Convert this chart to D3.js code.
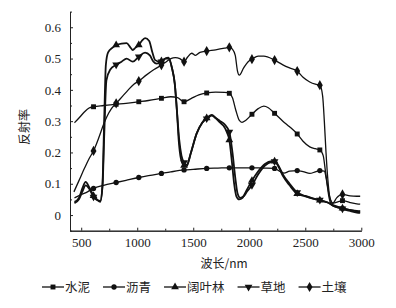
<!DOCTYPE html>
<html>
<head>
<meta charset="utf-8">
<script src="https://cdn.jsdelivr.net/npm/d3@7"></script>
<style>
  body { margin: 0; background: #fff; }
  svg { display: block; }
</style>
</head>
<body>
<div id="chart"></div>
<script>
// phổ phản xạ 5 loại bề mặt

const seriesNames = ["水泥", "沥青", "阔叶林", "草地", "土壤"];
const markerWl = [610, 812, 1014, 1216, 1418, 1620, 1822, 2024, 2226, 2428, 2630, 2832];

const xTicks = [500, 1000, 1500, 2000, 2500, 3000];
const yTicks = [0, 0.1, 0.2, 0.3, 0.4, 0.5, 0.6];

// 水泥
const cementWl  = [440, 480, 530, 570, 610, 700, 812, 900, 1014, 1100, 1216, 1300, 1360, 1418, 1480, 1550, 1620, 1700, 1780, 1822, 1850, 1880, 1910, 1935, 1970, 2024, 2080, 2130, 2170, 2226, 2300, 2360, 2428, 2480, 2540, 2590, 2630, 2660, 2680, 2700, 2720, 2750, 2790, 2832, 2900, 2960, 2990];
const cementVal = [0.295, 0.31, 0.33, 0.342, 0.346, 0.35, 0.354, 0.357, 0.362, 0.366, 0.373, 0.378, 0.375, 0.362, 0.372, 0.384, 0.39, 0.393, 0.392, 0.389, 0.375, 0.335, 0.303, 0.296, 0.303, 0.322, 0.34, 0.348, 0.343, 0.325, 0.3, 0.282, 0.259, 0.236, 0.218, 0.212, 0.208, 0.19, 0.14, 0.09, 0.055, 0.038, 0.042, 0.046, 0.04, 0.036, 0.035];

// 沥青
const asphaltWl  = [440, 500, 560, 610, 700, 812, 900, 1014, 1100, 1216, 1300, 1418, 1500, 1620, 1720, 1822, 1920, 2024, 2120, 2226, 2270, 2310, 2360, 2428, 2480, 2540, 2590, 2630, 2670, 2690, 2710, 2730, 2760, 2832, 2900, 2960, 2990];
const asphaltVal = [0.055, 0.065, 0.075, 0.085, 0.095, 0.104, 0.111, 0.12, 0.126, 0.133, 0.138, 0.144, 0.146, 0.149, 0.15, 0.151, 0.151, 0.151, 0.15, 0.149, 0.14, 0.134, 0.14, 0.142, 0.139, 0.133, 0.138, 0.142, 0.14, 0.11, 0.06, 0.035, 0.027, 0.021, 0.017, 0.014, 0.013];

// 阔叶林
const forestWl  = [440, 480, 510, 540, 570, 610, 640, 670, 690, 705, 720, 740, 780, 812, 860, 905, 940, 960, 985, 1014, 1040, 1070, 1107, 1135, 1160, 1200, 1216, 1250, 1280, 1310, 1335, 1355, 1370, 1390, 1418, 1440, 1480, 1530, 1580, 1620, 1665, 1700, 1740, 1770, 1800, 1822, 1845, 1865, 1885, 1910, 1940, 1970, 2024, 2080, 2140, 2200, 2226, 2260, 2300, 2360, 2428, 2500, 2560, 2630, 2700, 2760, 2832, 2900, 2960, 2990];
const forestVal = [0.042, 0.055, 0.085, 0.106, 0.09, 0.062, 0.05, 0.042, 0.1, 0.3, 0.48, 0.52, 0.535, 0.543, 0.548, 0.549, 0.535, 0.527, 0.535, 0.543, 0.556, 0.565, 0.556, 0.52, 0.495, 0.49, 0.492, 0.5, 0.5, 0.47, 0.42, 0.33, 0.24, 0.18, 0.158, 0.155, 0.2, 0.26, 0.295, 0.31, 0.32, 0.31, 0.295, 0.285, 0.265, 0.24, 0.17, 0.1, 0.06, 0.05, 0.055, 0.075, 0.11, 0.14, 0.163, 0.172, 0.172, 0.155, 0.125, 0.095, 0.068, 0.06, 0.053, 0.047, 0.04, 0.03, 0.022, 0.016, 0.012, 0.011];

// 草地
const grassWl  = [440, 480, 510, 540, 570, 610, 640, 670, 690, 705, 725, 760, 812, 860, 905, 960, 1014, 1070, 1113, 1145, 1173, 1216, 1250, 1280, 1310, 1335, 1355, 1375, 1395, 1418, 1440, 1480, 1530, 1580, 1620, 1665, 1700, 1740, 1780, 1822, 1850, 1875, 1895, 1920, 1950, 1980, 2024, 2080, 2140, 2200, 2226, 2260, 2300, 2360, 2428, 2500, 2560, 2630, 2700, 2760, 2832, 2900, 2960, 2990];
const grassVal = [0.038, 0.05, 0.075, 0.095, 0.085, 0.058, 0.048, 0.045, 0.09, 0.25, 0.43, 0.465, 0.48, 0.49, 0.5, 0.49, 0.506, 0.519, 0.51, 0.49, 0.484, 0.49, 0.5, 0.503, 0.47, 0.42, 0.33, 0.24, 0.19, 0.168, 0.16, 0.2, 0.26, 0.295, 0.308, 0.318, 0.31, 0.3, 0.29, 0.265, 0.2, 0.12, 0.07, 0.055, 0.06, 0.075, 0.095, 0.13, 0.158, 0.17, 0.171, 0.158, 0.13, 0.1, 0.072, 0.061, 0.054, 0.048, 0.04, 0.028, 0.02, 0.013, 0.008, 0.007];

// 土壤
const soilWl  = [435, 480, 530, 570, 610, 660, 700, 730, 770, 812, 870, 920, 970, 1014, 1080, 1150, 1216, 1260, 1300, 1340, 1380, 1418, 1450, 1486, 1520, 1560, 1620, 1700, 1780, 1822, 1850, 1875, 1895, 1911, 1950, 1990, 2024, 2080, 2130, 2226, 2300, 2360, 2428, 2480, 2540, 2590, 2630, 2655, 2670, 2685, 2700, 2720, 2745, 2780, 2832, 2900, 2960, 2990];
const soilVal = [0.074, 0.11, 0.15, 0.18, 0.205, 0.25, 0.29, 0.315, 0.34, 0.357, 0.38, 0.4, 0.418, 0.428, 0.447, 0.465, 0.479, 0.49, 0.5, 0.503, 0.5, 0.49, 0.505, 0.517, 0.51, 0.52, 0.524, 0.528, 0.533, 0.536, 0.53, 0.51, 0.46, 0.447, 0.47, 0.49, 0.498, 0.508, 0.508, 0.495, 0.48, 0.47, 0.46, 0.44, 0.425, 0.418, 0.415, 0.38, 0.3, 0.2, 0.12, 0.055, 0.037, 0.055, 0.066, 0.061, 0.06, 0.06];

const width = 396, height = 308;
const margin = { top: 11.6, right: 34.7, bottom: 77.3, left: 70 };

const svg = d3.select("#chart")
  .append("svg")
  .attr("width", width)
  .attr("height", height);

const x = d3.scaleLinear()
  .domain([400, 3000])
  .range([margin.left, width - margin.right]);

const y = d3.scaleLinear()
  .domain([-0.05, 0.65])
  .range([height - margin.bottom, margin.top]);

const tickFont = "'Liberation Serif', 'Times New Roman', serif";
const cjkFont = "'Noto Sans CJK SC', sans-serif";

// trục
const xMinor = d3.range(750, 3000, 500);
const yMinor = d3.range(-0.05, 0.651, 0.1).map(d => +d.toFixed(2));

svg.append("g")
  .attr("transform", `translate(0,${y(-0.05)})`)
  .call(d3.axisBottom(x).tickValues(xMinor).tickFormat("").tickSizeInner(-2).tickSizeOuter(0));

svg.append("g")
  .attr("transform", `translate(${x(400)},0)`)
  .call(d3.axisLeft(y).tickValues(yMinor).tickFormat("").tickSizeInner(-2).tickSizeOuter(0));

svg.append("g")
  .attr("transform", `translate(0,${y(-0.05)})`)
  .call(d3.axisBottom(x).tickValues(xTicks).tickFormat(d3.format("d")).tickSizeInner(-3).tickSizeOuter(0).tickPadding(7));

svg.append("g")
  .attr("transform", `translate(${x(400)},0)`)
  .call(d3.axisLeft(y).tickValues(yTicks).tickFormat(d => d === 0 ? "0" : d3.format(".1f")(d)).tickSizeInner(-3).tickSizeOuter(0).tickPadding(9));

svg.selectAll(".tick text")
  .attr("font-family", tickFont)
  .attr("font-size", "13px")
  .attr("fill", "#222");
svg.selectAll(".domain, .tick line").attr("stroke", "#222");

// nhãn trục
svg.append("text")
  .attr("x", 224)
  .attr("y", 268)
  .attr("text-anchor", "middle")
  .attr("font-family", cjkFont)
  .attr("font-size", "12px")
  .attr("fill", "#222")
  .text("波长/nm");

svg.append("text")
  .attr("transform", "translate(29,127) rotate(-90)")
  .attr("text-anchor", "middle")
  .attr("font-family", cjkFont)
  .attr("font-size", "12px")
  .attr("fill", "#222")
  .text("反射率");

// đường + marker
const seriesWl = [cementWl, asphaltWl, forestWl, grassWl, soilWl];
const seriesVal = [cementVal, asphaltVal, forestVal, grassVal, soilVal];
const symbols = [d3.symbolSquare, d3.symbolCircle, d3.symbolTriangle, d3.symbolTriangle, d3.symbolDiamond];
const symSize = [24, 22, 26, 26, 30];
const symRotate = [0, 0, 0, 180, 0];
const strokeW = [1.3, 1.3, 1.8, 1.8, 1.3];

const line = d3.line()
  .x(d => x(d.wl))
  .y(d => y(d.v))
  .curve(d3.curveMonotoneX);

seriesNames.forEach((name, i) => {
  const pts = seriesWl[i].map((wl, j) => ({ wl, v: seriesVal[i][j] }));

  svg.append("path")
    .datum(pts)
    .attr("fill", "none")
    .attr("stroke", "#111")
    .attr("stroke-width", strokeW[i])
    .attr("stroke-linejoin", "round")
    .attr("d", line);

  svg.selectAll(".m" + i)
    .data(pts.filter(d => markerWl.includes(d.wl)))
    .join("path")
    .attr("class", "m" + i)
    .attr("d", d3.symbol(symbols[i], symSize[i]))
    .attr("transform", d => `translate(${x(d.wl)},${y(d.v)}) rotate(${symRotate[i]})`)
    .attr("fill", "#111");
});

// chú giải
let lx = 42;
const ly = 287;
seriesNames.forEach((name, i) => {
  const g = svg.append("g").attr("transform", `translate(${lx},${ly})`);
  g.append("line")
    .attr("x1", 0).attr("x2", 22)
    .attr("stroke", "#111")
    .attr("stroke-width", 1.3);
  g.append("path")
    .attr("d", d3.symbol(symbols[i], symSize[i]))
    .attr("transform", `translate(11,0) rotate(${symRotate[i]})`)
    .attr("fill", "#111");
  const t = g.append("text")
    .attr("x", 23)
    .attr("dy", "0.36em")
    .attr("font-family", cjkFont)
    .attr("font-size", "12.5px")
    .attr("fill", "#222")
    .text(name);
  lx += 23 + t.node().getComputedTextLength() + 13;
});
</script>
</body>
</html>
